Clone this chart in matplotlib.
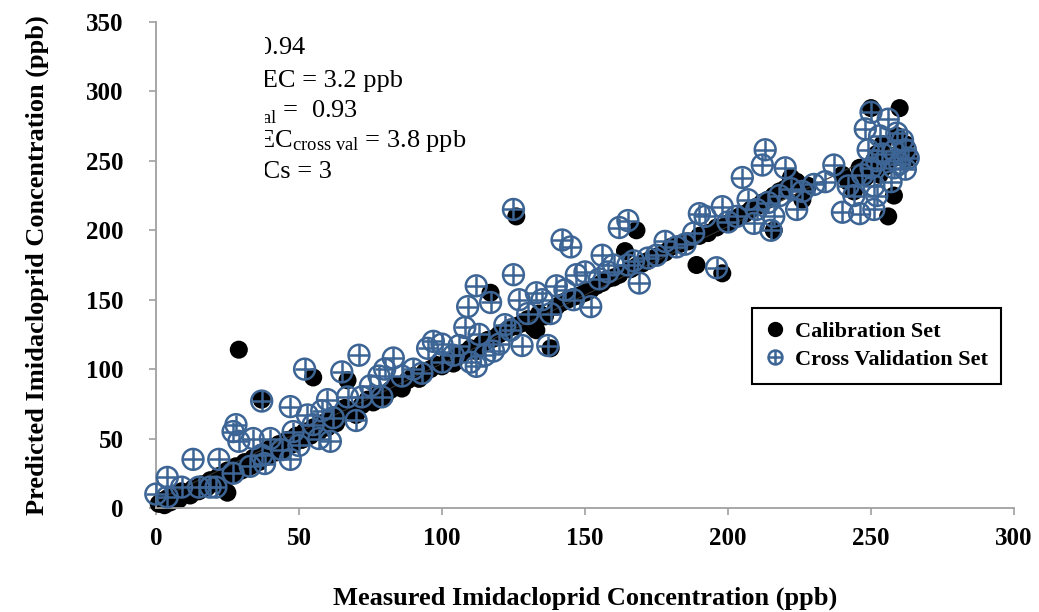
import numpy as np
import matplotlib
matplotlib.use("Agg")
import matplotlib.pyplot as plt
from matplotlib.legend_handler import HandlerTuple
from matplotlib.transforms import Bbox, TransformedBbox

plt.rcParams['font.family'] = ['Liberation Serif', 'DejaVu Serif']
plt.rcParams['mathtext.fontset'] = 'custom'
plt.rcParams['mathtext.rm'] = 'Liberation Serif'
plt.rcParams['mathtext.it'] = 'Liberation Serif:italic'

# calibration set (measured, predicted) in ppb
cal_x = [1, 2, 3, 4, 5, 6, 8, 9, 10, 12, 13, 15, 16, 18, 19, 21, 22, 24, 25, 25,
         27, 28, 29, 30, 31, 33, 34, 36, 37, 37, 39, 40, 42, 43, 45, 46, 48, 49, 51, 52,
         54, 55, 55, 57, 58, 60, 61, 63, 64, 66, 67, 68, 70, 72, 74, 76, 78, 80, 82, 84,
         86, 88, 90, 92, 94, 96, 98, 100, 102, 104, 106, 108, 110, 112, 114, 116, 117, 118, 120, 122,
         124, 126, 126, 128, 130, 132, 133, 134, 136, 138, 140, 142, 144, 146, 148, 150, 152, 154, 156, 158,
         160, 162, 164, 166, 168, 168, 170, 172, 175, 178, 180, 183, 186, 189, 190, 193, 196, 198, 200, 202,
         204, 206, 208, 210, 212, 214, 216, 216, 218, 220, 222, 224, 226, 228, 240, 242, 244, 246, 248, 250,
         251, 252, 253, 254, 255, 256, 258, 259, 260, 261, 262, 263, 258]
cal_y = [3, 5, 2, 7, 4, 8, 6, 12, 10, 9, 14, 12, 17, 15, 20, 18, 23, 21, 11, 27,
         24, 30, 114, 27, 33, 30, 36, 33, 78, 40, 37, 43, 40, 46, 42, 49, 46, 52, 49, 55,
         52, 94, 58, 55, 61, 58, 64, 61, 67, 72, 92, 70, 67, 74, 78, 76, 82, 80, 85, 88,
         86, 92, 95, 93, 98, 100, 103, 102, 106, 104, 110, 112, 115, 113, 118, 121, 155, 122, 125, 127,
         130, 210, 131, 133, 136, 130, 128, 140, 138, 115, 145, 148, 150, 152, 153, 155, 157, 160, 162, 165,
         166, 168, 185, 172, 200, 174, 176, 178, 181, 184, 188, 190, 192, 175, 196, 198, 202, 169, 205, 208,
         210, 212, 215, 217, 220, 222, 225, 200, 228, 230, 238, 235, 222, 232, 240, 235, 228, 245, 238, 288,
         250, 255, 240, 262, 246, 210, 252, 268, 288, 258, 262, 252, 225]

# cross validation set (measured, predicted) in ppb
cv_x = [0, 4, 4, 9, 13, 15, 19, 22, 21, 27, 28, 27, 29, 33, 34, 37, 37, 38, 40, 44,
        47, 47, 48, 50, 52, 53, 55, 57, 58, 60, 61, 62, 65, 67, 70, 71, 72, 75, 78, 79,
        80, 83, 86, 90, 93, 95, 97, 100, 100, 104, 106, 108, 109, 110, 112, 112, 113, 115, 117, 118,
        120, 122, 124, 125, 125, 127, 128, 130, 133, 135, 137, 138, 140, 142, 143, 145, 146, 147, 150, 152,
        155, 156, 158, 160, 162, 165, 165, 167, 169, 172, 175, 178, 182, 185, 188, 190, 192, 196, 198, 200,
        203, 205, 207, 209, 210, 212, 213, 214, 215, 216, 218, 220, 222, 224, 226, 230, 234, 237, 240, 242,
        244, 246, 247, 248, 249, 250, 250, 251, 251, 252, 252, 253, 254, 256, 258, 258, 259, 260, 261, 262,
        262, 263, 257]
cv_y = [10, 22, 8, 15, 35, 15, 15, 35, 15, 25, 60, 55, 48, 30, 50, 77, 38, 32, 50, 42,
        35, 73, 55, 45, 100, 67, 60, 50, 70, 78, 48, 65, 98, 80, 63, 110, 80, 88, 95, 80,
        100, 108, 95, 100, 97, 115, 120, 105, 118, 110, 117, 130, 145, 105, 160, 102, 125, 110, 148, 113,
        118, 132, 128, 215, 168, 150, 117, 140, 155, 150, 117, 140, 160, 193, 157, 188, 150, 168, 170, 145,
        165, 182, 170, 175, 202, 207, 175, 178, 162, 180, 182, 192, 188, 190, 198, 212, 210, 173, 217, 206,
        210, 238, 222, 205, 215, 247, 258, 220, 200, 210, 225, 245, 230, 215, 228, 233, 235, 247, 213, 232,
        225, 212, 240, 273, 258, 285, 245, 232, 215, 250, 225, 268, 255, 280, 245, 257, 270, 248, 265, 258,
        244, 252, 235]

stats_lines = [r"R$^2$ = 0.94",
               "RMSEC = 3.2 ppb",
               r"R$^2_{\mathrm{cross\ val}}$ =  0.93",
               r"RMSEC$_{\mathrm{cross\ val}}$ = 3.8 ppb",
               "PCs = 3"]

blue = '#3C6494'

fig = plt.figure(figsize=(10.39, 6.12), dpi=100)
ax = fig.add_axes([0.150, 0.170, 0.826, 0.794])

ax.scatter(cal_x, cal_y, s=13**2, c='black', edgecolors='none', clip_on=False, zorder=2)
ax.scatter(cv_x, cv_y, s=15**2, facecolors='none', edgecolors=blue, linewidths=1.8,
           clip_on=False, zorder=3)
ax.scatter(cv_x, cv_y, s=15**2, marker='+', c=blue, linewidths=1.8, clip_on=False, zorder=3)

# linear fit of the calibration data
k, b = np.polyfit(cal_x, cal_y, 1)
xs = np.array([min(cal_x), max(cal_x)])
ax.plot(xs, k * xs + b, color='#333333', lw=0.8, zorder=2.5)

ax.set_xlim(0, 300)
ax.set_ylim(0, 350)
ax.set_xticks(range(0, 301, 50))
ax.set_yticks(range(0, 351, 50))
for s in ['top', 'right']:
    ax.spines[s].set_visible(False)
for s in ['left', 'bottom']:
    ax.spines[s].set_color('#A0A0A0')
    ax.spines[s].set_linewidth(1.3)
ax.tick_params(axis='both', direction='out', length=5, width=1.2, color='#A0A0A0',
               labelsize=18)
ax.tick_params(axis='y', pad=18)
ax.tick_params(axis='x', pad=9)
for lab in ax.get_xticklabels() + ax.get_yticklabels():
    lab.set_fontweight('bold')

ax.set_xlabel('Measured Imidacloprid Concentration (ppb)', fontsize=19, fontweight='bold',
              labelpad=26)
ax.set_ylabel('Predicted Imidacloprid Concentration (ppb)', fontsize=19, fontweight='bold',
              labelpad=27)

# statistics text, cut off at its left side as in the original
clip = TransformedBbox(Bbox([[38.2, 0], [300, 400]]), ax.transData)
right_ends = [52.6, 86.4, 70.6, 108.7, 61.5]
baselines = [326, 303, 281, 260, 238]
for line, xr, yb in zip(stats_lines, right_ends, baselines):
    t = ax.text(xr, yb, line, fontsize=19, ha='right', va='baseline', clip_on=True)
    t.set_clip_box(clip)

h_cal = plt.Line2D([], [], ls='none', marker='o', ms=10, color='black')
h_ring = plt.Line2D([], [], ls='none', marker='o', ms=10, mfc='none', mec=blue, mew=1.8)
h_plus = plt.Line2D([], [], ls='none', marker='+', ms=10, color=blue, mew=1.8)
leg = ax.legend([h_cal, (h_ring, h_plus)], ['Calibration Set', 'Cross Validation Set'],
                handler_map={tuple: HandlerTuple(ndivide=1, pad=0)},
                loc='upper left', bbox_to_anchor=(0.695, 0.4115), borderaxespad=0,
                fancybox=False, edgecolor='black', framealpha=1,
                prop={'weight': 'bold', 'size': 16}, handlelength=0.8, handletextpad=0.5,
                borderpad=0.6, labelspacing=0.35)
leg.get_frame().set_linewidth(1.5)

fig.savefig('out.png', dpi=100)
